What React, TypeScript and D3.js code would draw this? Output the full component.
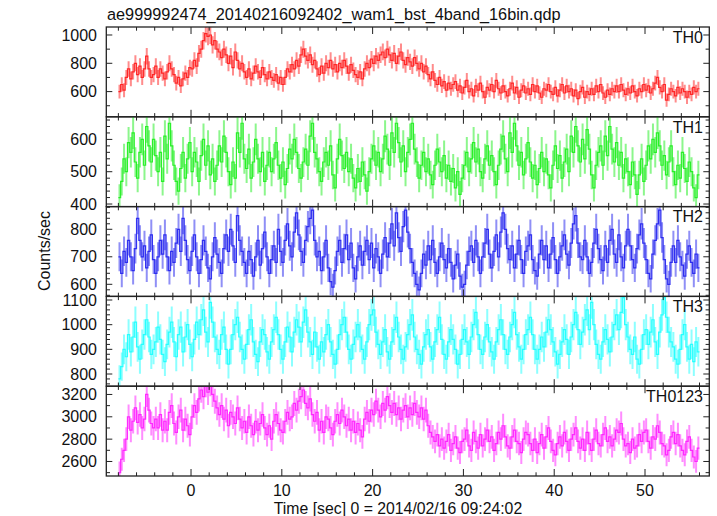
import React from 'react';
import * as d3 from 'd3';

const TITLE = 'ae999992474_20140216092402_wam1_bst_4band_16bin.qdp';
const X_LABEL = 'Time [sec] 0 = 2014/02/16 09:24:02';
const Y_LABEL = 'Counts/sec';
const T_START = -8;
const BIN_WIDTH = 0.25;
const X_TICK_VALUES = [0, 10, 20, 30, 40, 50];

// one row = one second (4 bins of 0.25 s), from t = -8 s to t = 56 s
const th0 = [
  600,650,610,700, 760,690,740,800, 720,780,700,760, 850,760,700,720, 780,700,760,730, 690,740,800,760, 720,660,700,640, 690,730,700,770,
  760,820,780,870, 900,960,1010,990, 1000,930,960,900, 880,840,900,860, 800,850,770,880, 820,760,800,740, 700,760,690,730, 780,740,700,770,
  720,690,740,700, 680,720,660,700, 650,700,760,740, 790,760,820,780, 860,900,850,820, 860,790,820,760, 720,780,730,800, 770,820,760,790,
  740,800,770,820, 780,730,790,750, 720,700,740,690, 760,800,770,830, 800,850,820,860, 880,840,900,860, 820,870,800,850, 880,820,790,840,
  810,780,840,800, 760,800,740,780, 720,690,740,680, 650,700,640,670, 610,660,620,650, 670,610,640,590, 630,680,600,620, 570,640,610,660,
  600,560,630,610, 650,600,680,620, 590,640,600,570, 620,660,590,630, 560,610,640,590, 620,580,650,600, 640,590,560,620, 610,650,600,580,
  630,570,610,650, 590,640,600,620, 570,610,550,600, 630,560,600,580, 620,580,640,600, 650,590,560,610, 580,620,600,640, 600,650,610,580,
  620,590,640,600, 570,620,600,650, 610,640,590,620, 660,700,630,600, 650,540,580,620, 600,570,630,590, 620,600,560,600, 580,630,600,620,
];

const th1 = [
  420,470,540,500, 590,560,620,530, 480,560,600,520, 640,580,530,600, 550,500,560,470, 610,540,650,580, 520,470,440,510, 560,480,540,590,
  500,560,530,470, 550,600,520,580, 490,540,470,520, 580,530,610,560, 500,460,530,480, 620,560,650,540, 510,570,480,530, 600,540,500,560,
  470,520,560,500, 540,590,520,480, 530,460,510,570, 540,600,560,510, 480,530,570,520, 610,650,560,540, 500,470,530,560, 520,580,490,450,
  540,600,550,510, 560,500,540,480, 450,510,470,530, 490,440,500,540, 580,520,560,500, 540,610,570,520, 620,560,650,590, 530,580,500,560,
  600,650,570,530, 480,520,560,500, 540,490,460,520, 570,530,500,550, 480,520,470,510, 450,500,430,480, 520,560,500,540, 590,530,570,500,
  480,540,580,520, 550,500,460,520, 570,610,540,500, 620,560,650,580, 520,560,490,540, 590,530,480,520, 460,510,560,500, 540,490,450,520,
  580,510,550,480, 530,570,500,610, 560,640,580,530, 600,540,630,570, 490,450,520,560, 580,520,610,550, 640,570,530,590, 520,560,480,540,
  500,460,530,490, 430,490,540,470, 520,580,540,600, 560,620,580,520, 550,490,530,580, 500,460,520,480, 560,510,470,530, 500,450,420,490,
];

const th2 = [
  700,640,720,680, 760,700,650,730, 840,760,700,740, 660,720,780,690, 640,700,760,710, 780,700,650,720, 680,750,800,720, 840,760,690,650,
  720,780,700,640, 690,760,720,660, 620,700,770,710, 680,640,730,780, 720,800,740,680, 850,760,720,680, 640,720,690,630, 700,760,670,730,
  790,700,640,690, 740,680,800,720, 680,760,820,740, 700,790,860,780, 720,680,760,810, 840,870,760,700, 720,650,700,760, 660,610,590,650,
  720,760,680,730, 780,690,750,660, 620,700,740,670, 720,760,690,750, 660,730,700,640, 710,770,700,750, 820,740,860,770, 720,810,870,790,
  730,680,640,600, 580,640,710,670, 740,690,760,680, 640,700,750,690, 660,730,680,620, 670,710,630,590, 600,670,720,740, 680,760,700,640,
  700,750,800,710, 660,720,780,700, 790,860,800,730, 690,740,660,710, 760,690,640,720, 740,780,690,650, 630,710,760,690, 740,660,710,770,
  690,640,700,740, 780,710,670,750, 820,850,750,700, 690,760,700,640, 680,750,800,730, 690,650,740,680, 760,800,710,680, 780,700,660,740,
  800,740,690,660, 730,780,820,750, 690,640,620,710, 760,820,870,770, 690,620,600,680, 740,680,760,700, 670,630,710,740, 680,640,710,660,
];

const th3 = [
  780,830,900,870, 960,890,950,1010, 910,860,920,960, 1020,950,880,900, 930,990,940,880, 850,920,970,1010, 930,870,960,990, 890,950,1000,920,
  870,940,1010,960, 1020,1060,970,930, 1090,1010,950,900, 880,960,990,900, 840,900,960,1000, 1030,950,900,860, 920,980,1020,930, 880,850,930,980,
  960,890,860,930, 980,1030,960,900, 860,930,990,950, 890,970,1020,990, 930,1010,1060,970, 930,880,970,910, 860,930,890,960, 1000,930,880,840,
  900,960,1000,1030, 970,900,860,920, 950,1000,950,900, 860,930,1000,1040, 1060,970,920,880, 930,980,890,860, 930,980,1030,950, 900,860,910,960,
  1000,1040,950,900, 880,840,910,960, 980,910,860,930, 980,1030,940,880, 860,930,980,940, 900,840,880,940, 980,930,880,950, 1000,1050,960,900,
  880,950,1000,930, 890,860,930,980, 1020,960,900,880, 950,1000,1050,960, 910,860,900,960, 980,1030,960,900, 860,900,950,910, 970,1020,980,930,
  890,840,880,930, 980,940,880,950, 1000,1050,980,920, 970,1020,1060,980, 1090,1000,920,880, 860,930,980,940, 890,950,1000,1040, 980,1050,1110,1000,
  950,900,880,950, 860,840,900,960, 980,920,970,1020, 930,880,970,1040, 1110,1030,970,930, 910,860,840,900, 960,1000,910,860, 920,850,930,890,
];

const th0123 = [
  2500,2620,2700,2800, 3000,2880,2960,3080, 2950,3020,2900,2980, 3200,3060,2940,2900, 2980,2900,3020,2880, 2960,2880,3040,3100, 2940,2860,3000,3060, 2880,2980,2920,2840,
  3000,3100,3040,3160, 3240,3180,3290,3220, 3300,3200,3140,3080, 3020,3100,2980,3060, 2920,3040,3000,2940, 3080,2980,2900,2960, 2860,3000,2920,2840, 2960,2880,2940,3020,
  2900,2840,2920,2800, 2960,3020,2940,2880, 2860,2960,3040,2980, 3000,3120,3060,3140, 3180,3240,3120,3080, 3160,3020,2960,3040, 2880,2960,2860,3000, 2980,2900,2840,2960,
  3020,2940,3060,3000, 2920,2980,2880,2960, 2860,2940,2880,2820, 2980,3040,2960,3060, 3020,3140,3060,3000, 3120,3060,3180,3100, 3040,3120,3020,3080, 2980,3060,3100,3000,
  3080,3020,3120,3040, 3000,3080,2980,3060, 2920,2860,2820,2780, 2840,2740,2800,2720, 2780,2840,2700,2760, 2820,2720,2680,2780, 2800,2880,2740,2700, 2860,2780,2720,2840,
  2740,2800,2880,2780, 2820,2700,2760,2860, 2800,2920,2820,2740, 2720,2820,2880,2780, 2760,2680,2800,2860, 2840,2760,2700,2800, 2680,2760,2840,2720, 2820,2900,2780,2700,
  2660,2760,2820,2740, 2860,2780,2700,2800, 2840,2900,2780,2720, 2800,2700,2860,2760, 2700,2800,2880,2760, 2740,2840,2900,2780, 2820,2740,2800,2880, 2860,2940,2800,2740,
  2760,2680,2800,2720, 2740,2840,2780,2860, 2880,2780,2720,2820, 2800,2920,2860,2760, 2740,2660,2700,2820, 2860,2760,2840,2740, 2700,2660,2780,2820, 2700,2640,2600,2720,
];

const panelNames = ['TH0', 'TH1', 'TH2', 'TH3', 'TH0123'];
const panelSeries = [th0, th1, th2, th3, th0123];
const panelColors = ['#ff1a1a', '#1aee1a', '#2020ee', '#1affff', '#ff1aff'];
const panelDomains: [number, number][] = [[421.9, 1056.5], [392, 670], [556, 882.5], [750.6, 1114.6], [2470, 3274]];
const panelMajor = [200, 100, 100, 100, 200];
const panelMinor = [100, 20, 20, 20, 100];

const W = 717, H = 516;
const LEFT = 106.3, RIGHT = 709.3, TOP = 27, BOTTOM = 476;
const X_DOMAIN: [number, number] = [-9.33, 57.08];
const FONT = "'Liberation Sans', Arial, Helvetica, sans-serif";
const AXIS = '#222';

function ticksBetween(d0: number, d1: number, step: number) {
  const out: number[] = [];
  for (let v = Math.ceil(d0 / step) * step; v <= d1 + 1e-9; v += step) out.push(Math.round(v * 1000) / 1000);
  return out;
}

export default function App() {
  const x = d3.scaleLinear().domain(X_DOMAIN).range([LEFT, RIGHT]);
  const ph = (BOTTOM - TOP) / panelNames.length;
  const xMinor = ticksBetween(X_DOMAIN[0], X_DOMAIN[1], 2);

  return (
    <svg width={W} height={H} style={{ position: 'absolute', left: 0, top: 0, background: '#fff' }} fontFamily={FONT}>
      <rect x={0} y={0} width={W} height={H} fill="#fff" />
      <text x={107} y={20} fontSize={16.3} fill="#111">{TITLE}</text>
      {panelNames.map((name, pi) => {
        const top = TOP + pi * ph;
        const bot = top + ph;
        const [d0, d1] = panelDomains[pi];
        const y = d3.scaleLinear().domain([d0, d1]).range([bot, top]);
        const vals = panelSeries[pi];
        const color = panelColors[pi];
        let errPath = '';
        let stepPath = '';
        vals.forEach((v, i) => {
          const t = T_START + (i + 0.5) * BIN_WIDTH;
          const err = Math.sqrt(v * BIN_WIDTH) / BIN_WIDTH;
          const xc = x(t);
          errPath += `M${xc.toFixed(2)},${y(v - err).toFixed(2)}V${y(v + err).toFixed(2)}`;
          const x0 = x(t - BIN_WIDTH / 2).toFixed(2);
          const x1 = x(t + BIN_WIDTH / 2).toFixed(2);
          const yy = y(v).toFixed(2);
          stepPath += i === 0 ? `M${x0},${yy}H${x1}` : `V${yy}H${x1}`;
        });
        const minorY = ticksBetween(d0, d1, panelMinor[pi]);
        const majorY = ticksBetween(d0, d1, panelMajor[pi]);
        const clipId = `clip${pi}`;
        return (
          <g key={name}>
            <clipPath id={clipId}>
              <rect x={LEFT} y={top} width={RIGHT - LEFT} height={ph} />
            </clipPath>
            <g clipPath={`url(#${clipId})`}>
              <path d={errPath} stroke={color} strokeWidth={2} strokeOpacity={0.5} fill="none" />
              <path d={stepPath} stroke={color} strokeWidth={1.2} strokeOpacity={0.9} fill="none" />
            </g>
            {minorY.map((v) => {
              const isMajor = majorY.includes(v);
              const len = isMajor ? 6 : 3.7;
              const yy = y(v);
              return (
                <g key={`y${v}`}>
                  <line x1={LEFT} x2={LEFT + len} y1={yy} y2={yy} stroke={AXIS} strokeWidth={1} />
                  <line x1={RIGHT} x2={RIGHT - len} y1={yy} y2={yy} stroke={AXIS} strokeWidth={1} />
                </g>
              );
            })}
            {majorY.map((v) => (
              <text key={`yl${v}`} x={97} y={y(v) + 5.6} fontSize={16} textAnchor="end" fill="#111">{v}</text>
            ))}
            {xMinor.map((t) => {
              const isMajor = X_TICK_VALUES.includes(t);
              const len = isMajor ? 7 : 3.7;
              const xx = x(t);
              return (
                <g key={`x${t}`}>
                  <line x1={xx} x2={xx} y1={top} y2={top + len} stroke={AXIS} strokeWidth={1} />
                  <line x1={xx} x2={xx} y1={bot} y2={bot - len} stroke={AXIS} strokeWidth={1} />
                </g>
              );
            })}
            <rect x={LEFT} y={top} width={RIGHT - LEFT} height={ph} fill="none" stroke={AXIS} strokeWidth={1.3} />
            <text x={703} y={top + 15.7} fontSize={16} textAnchor="end" fill="#111">{name}</text>
          </g>
        );
      })}
      {X_TICK_VALUES.map((t) => (
        <text key={`xl${t}`} x={x(t)} y={495.5} fontSize={16} textAnchor="middle" fill="#111">{t}</text>
      ))}
      <text x={398} y={514} fontSize={15.8} textAnchor="middle" fill="#111">{X_LABEL}</text>
      <text transform={`translate(50,251) rotate(-90)`} fontSize={16} textAnchor="middle" fill="#111">{Y_LABEL}</text>
    </svg>
  );
}
